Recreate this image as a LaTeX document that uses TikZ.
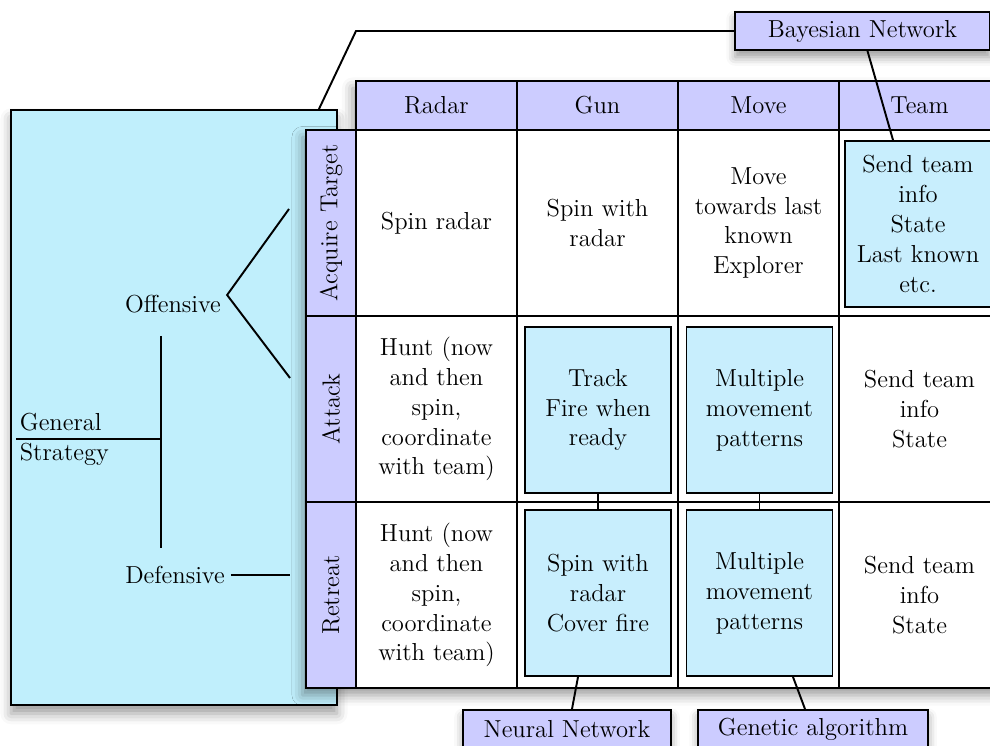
\documentclass[tikz,border=0pt]{standalone}
\usepackage{tikz}
\usetikzlibrary{shapes,positioning,shadows.blur}

\definecolor{lavender}{RGB}{204,204,255}
\definecolor{skyfill}{RGB}{192,239,252}
\definecolor{cellfill}{RGB}{200,238,253}

\begin{document}
\begin{tikzpicture}[x=0.02cm, y=-0.02cm, align=center, font=\fontsize{14}{17}\selectfont]
    \tikzset{
        plain/.style        =   { rectangle
                                , draw=black
                                , line width=1.1pt
                                , inner sep=0pt
        }
        , bigbox/.style     =   { plain
                                , fill=skyfill
                                , minimum width=6.52cm
                                , minimum height=11.9cm
                                , blur shadow={shadow xshift=0pt, shadow yshift=-5pt, shadow blur radius=6pt}
        }
        , headcell/.style   =   { plain
                                , fill=lavender
                                , minimum width=3.22cm
                                , minimum height=0.98cm
        }
        , rowhead/.style    =   { plain
                                , fill=lavender
                                , rotate=90
                                , minimum width=3.72cm
                                , minimum height=1cm
        }
        , tablecell/.style  =   { plain
                                , fill=white
                                , minimum width=3.22cm
                                , minimum height=3.72cm
        }
        , method/.style     =   { plain
                                , fill=cellfill
                                , minimum width=2.92cm
                                , minimum height=3.32cm
        }
        , tag/.style        =   { plain
                                , fill=lavender
                                , minimum height=0.76cm
                                , blur shadow={shadow xshift=0pt, shadow yshift=-4pt, shadow blur radius=5pt}
        }
        , link/.style       =   { line width=1.1pt
        }
    }
    \useasboundingbox (0,0) rectangle (990,746);
    \clip (0,0) rectangle (990,746);

    % strategy box on the left
    \node(gen)[bigbox] at (174,407.5) {};
    \node(gs)[anchor=west, align=left, inner sep=2pt] at (16,439) {General\\Strategy};
    \node(off) at (173,304) {Offensive};
    \node(def) at (175,575) {Defensive};

    % table
    \fill[white, blur shadow={shadow xshift=-2pt, shadow yshift=-4pt, shadow blur radius=6pt}]
        (306,130) -- (356,130) -- (356,81) -- (1000,81) -- (1000,688) -- (306,688) -- cycle;
    \node(radar)[headcell] at (436.5,105.5) {Radar};
    \node(gun)[headcell]   at (597.5,105.5) {Gun};
    \node(move)[headcell]  at (758.5,105.5) {Move};
    \node(team)[headcell]  at (919.5,105.5) {Team};

    \node(acq)[rowhead] at (331,223) {Acquire Target};
    \node(atk)[rowhead] at (331,409) {Attack};
    \node(ret)[rowhead] at (331,595) {Retreat};

    \node(c11)[tablecell] at (436.5,223) {Spin radar};
    \node(c12)[tablecell] at (597.5,223) {Spin with\\radar};
    \node(c13)[tablecell] at (758.5,223) {Move\\towards last\\known\\Explorer};
    \node(c14)[tablecell] at (919.5,223) {};
    \node(c21)[tablecell] at (436.5,409) {Hunt (now\\and then\\spin,\\coordinate\\with team)};
    \node(c22)[tablecell] at (597.5,409) {};
    \node(c23)[tablecell] at (758.5,409) {};
    \node(c24)[tablecell] at (919.5,409) {Send team\\info\\State};
    \node(c31)[tablecell] at (436.5,595) {Hunt (now\\and then\\spin,\\coordinate\\with team)};
    \node(c32)[tablecell] at (597.5,595) {};
    \node(c33)[tablecell] at (758.5,595) {};
    \node(c34)[tablecell] at (919.5,595) {Send team\\info\\State};

    \node(teaminfo)[method] at (918,224)   {Send team\\info\\State\\Last known\\etc.};
    \node(gunatk)[method]   at (598,410)   {Track\\Fire when\\ready};
    \node(moveatk)[method]  at (759.5,410) {Multiple\\movement\\patterns};
    \node(gunret)[method]   at (598,593)   {Spin with\\radar\\Cover fire};
    \node(moveret)[method]  at (759.5,593) {Multiple\\movement\\patterns};

    % technique labels
    \node(bayes)[tag, minimum width=5.1cm]  at (862.5,31) {Bayesian Network};
    \node(nn)[tag, minimum width=4.16cm]    at (567,729)  {Neural Network};
    \node(ga)[tag, minimum width=4.6cm]     at (813,729)  {Genetic algorithm};

    \coordinate(elbow)    at (356,31);
    \coordinate(acqend)   at (289,209);
    \coordinate(atkend)   at (290,378);
    \coordinate(retend)   at (290,575);
    \coordinate(trunktop) at (161,336);
    \coordinate(trunkbot) at (161,548);
    \coordinate(trunk)    at (161,439);

    \draw[link] ([xshift=-0.38cm]gen.north east) -- (elbow) -- (bayes.west);
    \draw[link] ([xshift=0.1cm]bayes.south) -- ([xshift=-0.5cm]teaminfo.north);
    \draw[link] (gunatk) -- (gunret);
    \draw[link] (moveatk) -- (moveret);
    \draw[link] ([xshift=-0.4cm]gunret.south) -- ([xshift=0.1cm]nn.north);
    \draw[link] ([xshift=0.67cm]moveret.south) -- ([xshift=-0.16cm]ga.north);

    \draw[link] (acqend) -- ([yshift=0.18cm]off.east) -- (atkend);
    \draw[link] (def.east) -- (retend);
    \draw[link] (trunktop) -- (trunkbot);
    \draw[link] (gs.west) -- (trunk);
\end{tikzpicture}
\end{document}
